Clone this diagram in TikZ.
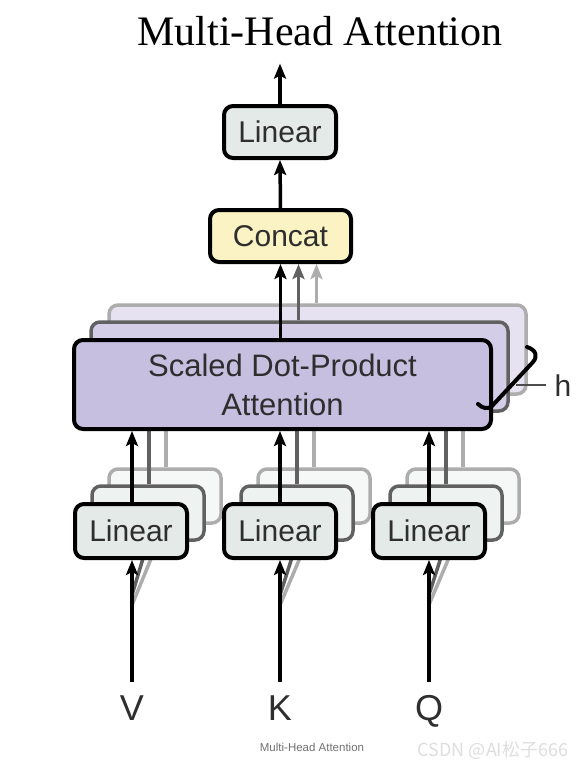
\documentclass[tikz,border=0pt]{standalone}
\usepackage{fontspec}
\setmainfont{Liberation Serif}
\newfontfamily\helv{Liberation Sans}
\newfontfamily\cjkf{Noto Sans CJK SC}
\usetikzlibrary{arrows.meta,calc}
\definecolor{linfill}{HTML}{E4EAE8}
\definecolor{linfillA}{HTML}{EEF2F0}
\definecolor{linfillB}{HTML}{F6F8F7}
\definecolor{catfill}{HTML}{FBF3C3}
\definecolor{sdfill}{HTML}{C6BFDF}
\definecolor{sdfillA}{HTML}{D3CDE8}
\definecolor{sdfillB}{HTML}{E6E2F2}
\definecolor{txt}{HTML}{2E2E2E}
\pgfdeclarelayer{bg}
\pgfdeclarelayer{sb}
\pgfdeclarelayer{sa}
\pgfsetlayers{bg,sb,sa,main}
\tikzset{
  mainbox/.style={draw=black, line width=4pt, rounded corners=9pt, inner sep=0pt, text=txt,
    font=\helv\fontsize{30}{36}\selectfont},
  shadA/.style={draw=black!62, line width=3.5pt, rounded corners=9pt, inner sep=0pt},
  shadB/.style={draw=black!32, line width=3.5pt, rounded corners=9pt, inner sep=0pt},
  arr/.style={line width=3.5pt, -{Stealth[length=15pt,width=12pt,inset=3pt]}},
  arrA/.style={line width=3.5pt, draw=black!62, -{Stealth[length=15pt,width=12pt,inset=3pt]}},
  arrB/.style={line width=3.5pt, draw=black!32, -{Stealth[length=15pt,width=12pt,inset=3pt]}},
  lineA/.style={line width=3.5pt, draw=black!62},
  lineB/.style={line width=3.5pt, draw=black!32},
  lab/.style={inner sep=0pt, text=txt, font=\helv\fontsize{36}{40}\selectfont, anchor=base},
}
\begin{document}
\begin{tikzpicture}[x=1pt,y=-1pt]
\useasboundingbox (0,0) rectangle (586,769);
\begin{pgfonlayer}{bg}
\fill[white] (0,0) rectangle (586,769);
\end{pgfonlayer}

% title
\node[inner sep=0pt, anchor=base, font=\fontsize{42}{46}\selectfont] (title) at (320,45) {Multi-Head Attention};

% main boxes
\node[mainbox, fill=linfill, minimum width=112pt, minimum height=52pt] (lintop) at (280,132) {Linear};
\node[mainbox, fill=catfill, minimum width=141pt, minimum height=52pt] (concat) at (280.5,236) {Concat};
\node[mainbox, fill=sdfill, minimum width=417pt, minimum height=89pt, align=center,
      font=\helv\fontsize{31}{39}\selectfont] (sdpa) at (282.5,384.5) {Scaled Dot-Product\\Attention};
\node[mainbox, fill=linfill, minimum width=112pt, minimum height=54pt] (linv) at (131,531) {Linear};
\node[mainbox, fill=linfill, minimum width=112pt, minimum height=54pt] (link) at (280,531) {Linear};
\node[mainbox, fill=linfill, minimum width=112pt, minimum height=54pt] (linq) at (429,531) {Linear};

% input labels
\node[lab] (V) at (132,720) {V};
\node[lab] (K) at (280,720) {K};
\node[lab] (Q) at (429,720) {Q};

% main arrows
\draw[arr] ([yshift=13pt]V.north) -- (V.north |- linv.south);
\draw[arr] ([yshift=13pt]K.north) -- (K.north |- link.south);
\draw[arr] ([yshift=13pt]Q.north) -- (Q.north |- linq.south);
\draw[arr] (V.north |- linv.north) -- (V.north |- sdpa.south);
\draw[arr] (K.north |- link.north) -- (K.north |- sdpa.south);
\draw[arr] (Q.north |- linq.north) -- (Q.north |- sdpa.south);
\draw[arr] (concat.south |- sdpa.north) -- (concat.south);
\draw[arr] (concat.north) -- (lintop.south);
\draw[arr] (lintop.north) -- ([yshift=-18pt]lintop.north |- title.south);

% h brace
\draw[line width=4pt, line cap=round] (527,347) .. controls (536,350) and (538,356) .. (533,362)
  -- (492,406) .. controls (488,410) and (482,408) .. (478,404);
\draw[line width=2pt, black!70] (516,385) -- (546,385);
\node[inner sep=0pt, text=txt, font=\helv\fontsize{30}{36}\selectfont, anchor=base] (h) at (563,396) {h};

% caption and watermark
\node[inner sep=0pt, anchor=base, text=black!55, font=\helv\fontsize{11.5}{14}\selectfont] (cap) at (312,751) {Multi-Head Attention};
\node[inner sep=0pt, anchor=base, text=black!13, font=\cjkf\fontsize{18}{20}\selectfont] (wm) at (493,756) {CSDN @AI松子666};

% first shadow copies
\begin{pgfonlayer}{sa}
\node[shadA, fill=sdfillA, minimum width=417pt, minimum height=89pt] (sda) at ($(sdpa.center)+(17,-18)$) {};
\node[shadA, fill=linfillA, minimum width=112pt, minimum height=54pt] (lva) at ($(linv.center)+(17,-18)$) {};
\node[shadA, fill=linfillA, minimum width=112pt, minimum height=54pt] (lka) at ($(link.center)+(17,-18)$) {};
\node[shadA, fill=linfillA, minimum width=112pt, minimum height=54pt] (lqa) at ($(linq.center)+(17,-18)$) {};
\draw[arrA] ([xshift=18pt]concat.south |- sda.north) -- ([xshift=18pt]concat.south);
\draw[lineA] ([xshift=17pt]V.north |- lva.north) -- ([xshift=17pt]V.north |- sdpa.south);
\draw[lineA] ([xshift=17pt]K.north |- lka.north) -- ([xshift=17pt]K.north |- sdpa.south);
\draw[lineA] ([xshift=17pt]Q.north |- lqa.north) -- ([xshift=17pt]Q.north |- sdpa.south);
\draw[lineA] ([yshift=100pt]V.north) -- (lva.south);
\draw[lineA] ([yshift=100pt]K.north) -- (lka.south);
\draw[lineA] ([yshift=100pt]Q.north) -- (lqa.south);
\end{pgfonlayer}

% second shadow copies
\begin{pgfonlayer}{sb}
\node[shadB, fill=sdfillB, minimum width=417pt, minimum height=89pt] (sdb) at ($(sdpa.center)+(35,-35)$) {};
\node[shadB, fill=linfillB, minimum width=112pt, minimum height=54pt] (lvb) at ($(linv.center)+(34,-35)$) {};
\node[shadB, fill=linfillB, minimum width=112pt, minimum height=54pt] (lkb) at ($(link.center)+(34,-35)$) {};
\node[shadB, fill=linfillB, minimum width=112pt, minimum height=54pt] (lqb) at ($(linq.center)+(34,-35)$) {};
\draw[arrB] ([xshift=36pt]concat.south |- sdb.north) -- ([xshift=36pt]concat.south);
\draw[lineB] ([xshift=34pt]V.north |- lvb.north) -- ([xshift=34pt]V.north |- sdpa.south);
\draw[lineB] ([xshift=34pt]K.north |- lkb.north) -- ([xshift=34pt]K.north |- sdpa.south);
\draw[lineB] ([xshift=34pt]Q.north |- lqb.north) -- ([xshift=34pt]Q.north |- sdpa.south);
\draw[lineB] ([yshift=90pt]V.north) -- (lvb.south);
\draw[lineB] ([yshift=90pt]K.north) -- (lkb.south);
\draw[lineB] ([yshift=90pt]Q.north) -- (lqb.south);
\end{pgfonlayer}
\end{tikzpicture}
\end{document}
